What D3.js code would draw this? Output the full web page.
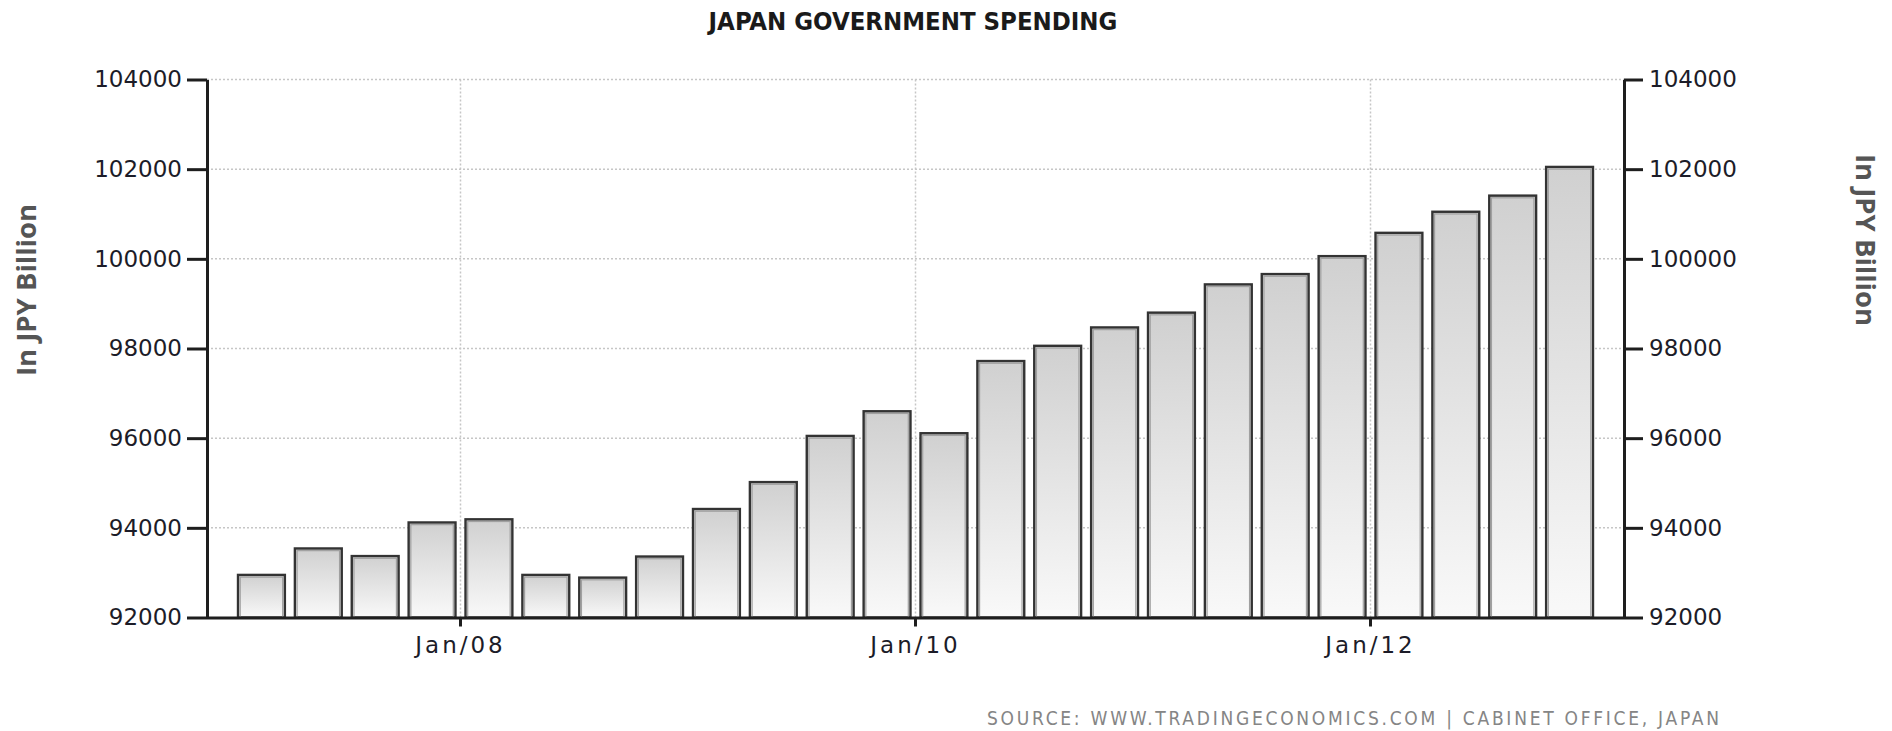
<!DOCTYPE html>
<html>
<head>
<meta charset="utf-8">
<title>Japan Government Spending</title>
<script src="https://cdn.jsdelivr.net/npm/d3@7"></script>
<style>
  html, body { margin: 0; padding: 0; background: #ffffff; }
  svg { display: block; }
</style>
</head>
<body>
<svg id="chart" width="1892" height="731"></svg>
<script>
// Quarterly government spending, JPY billion
const quarters = [
  "2007Q1", "2007Q2", "2007Q3", "2007Q4",
  "2008Q1", "2008Q2", "2008Q3", "2008Q4",
  "2009Q1", "2009Q2", "2009Q3", "2009Q4",
  "2010Q1", "2010Q2", "2010Q3", "2010Q4",
  "2011Q1", "2011Q2", "2011Q3", "2011Q4",
  "2012Q1", "2012Q2", "2012Q3", "2012Q4"
];
const spending = [
  92950, 93540, 93370, 94120,
  94190, 92950, 92890, 93360,
  94420, 95020, 96050, 96600,
  96110, 97720, 98060, 98470,
  98800, 99430, 99660, 100060,
  100580, 101050, 101410, 102050
];
const yTicks = [92000, 94000, 96000, 98000, 100000, 102000, 104000];
const xTickQuarters = ["2008Q1", "2010Q1", "2012Q1"];
const xTickLabels = ["Jan/08", "Jan/10", "Jan/12"];

const titleText = "JAPAN GOVERNMENT SPENDING";
const unitText = "In JPY Billion";
const sourceText = "SOURCE:  WWW.TRADINGECONOMICS.COM  |  CABINET  OFFICE,  JAPAN";

const svg = d3.select("#chart");

// Plot frame
const plotLeft = 207, plotRight = 1624, plotTop = 79.5, plotBottom = 617.5;
const inset = 26;

const x = d3.scaleBand()
  .domain(quarters)
  .range([plotLeft + inset, plotRight - inset])
  .paddingInner(0.176)
  .paddingOuter(0.088);

const y = d3.scaleLinear()
  .domain([92000, 104000])
  .range([plotBottom, plotTop]);

const halfGap = x.step() * x.paddingInner() / 2;
const boundary = q => x(q) - halfGap;

// Bar fill gradient
const defs = svg.append("defs");
const grad = defs.append("linearGradient")
  .attr("id", "barFill")
  .attr("x1", 0).attr("y1", 0).attr("x2", 0).attr("y2", 1);
grad.append("stop").attr("offset", "0%").attr("stop-color", "#d0d0d0");
grad.append("stop").attr("offset", "100%").attr("stop-color", "#f9f9f9");

// Horizontal dotted grid
svg.append("g")
  .selectAll("line")
  .data(yTicks.filter(v => v !== 92000))
  .join("line")
  .attr("x1", plotLeft).attr("x2", plotRight)
  .attr("y1", d => y(d)).attr("y2", d => y(d))
  .attr("stroke", "#c6c6c6")
  .attr("stroke-width", 1.5)
  .attr("stroke-dasharray", "2,2");

// Vertical dotted grid at year starts
svg.append("g")
  .selectAll("line")
  .data(xTickQuarters)
  .join("line")
  .attr("x1", d => boundary(d)).attr("x2", d => boundary(d))
  .attr("y1", plotTop).attr("y2", plotBottom)
  .attr("stroke", "#c6c6c6")
  .attr("stroke-width", 1.5)
  .attr("stroke-dasharray", "2,2");

// Bars
const bars = svg.append("g")
  .selectAll("g")
  .data(quarters.map((q, i) => ({ q, v: spending[i] })))
  .join("g");

bars.append("rect")
  .attr("x", d => x(d.q))
  .attr("y", d => y(d.v))
  .attr("width", x.bandwidth())
  .attr("height", d => plotBottom - y(d.v))
  .attr("fill", "url(#barFill)")
  .attr("stroke", "#333333")
  .attr("stroke-width", 2.4);

// inner bevel line
bars.append("rect")
  .attr("x", d => x(d.q) + 2.2)
  .attr("y", d => y(d.v) + 2.2)
  .attr("width", x.bandwidth() - 4.4)
  .attr("height", d => Math.max(0, plotBottom - y(d.v) - 2.2))
  .attr("fill", "none")
  .attr("stroke", "#a0a0a0")
  .attr("stroke-width", 1.2);

// Axes
const tickFont = "'DejaVu Sans', Verdana, sans-serif";

const yLeft = svg.append("g")
  .attr("transform", `translate(${plotLeft},0)`)
  .call(d3.axisLeft(y).tickValues(yTicks).tickSize(20).tickSizeOuter(0).tickPadding(5).tickFormat(d3.format("d")));

const yRight = svg.append("g")
  .attr("transform", `translate(${plotRight},0)`)
  .call(d3.axisRight(y).tickValues(yTicks).tickSize(19).tickSizeOuter(0).tickPadding(6).tickFormat(d3.format("d")));

const xAxis = svg.append("g")
  .attr("transform", `translate(0,${plotBottom})`)
  .call(d3.axisBottom(x).tickValues(xTickQuarters).tickSize(9).tickSizeOuter(0).tickPadding(10)
    .tickFormat(q => xTickLabels[xTickQuarters.indexOf(q)]));
xAxis.selectAll(".tick").attr("transform", d => `translate(${boundary(d)},0)`);
xAxis.select(".domain").attr("d", `M${plotLeft},0.5H${plotRight}`);

[yLeft, yRight, xAxis].forEach(g => {
  g.select(".domain").attr("stroke", "#1e1e1e").attr("stroke-width", 3);
  g.selectAll(".tick line").attr("stroke", "#1e1e1e").attr("stroke-width", 3);
  g.selectAll(".tick text")
    .attr("fill", "#1c1c28")
    .style("font-family", tickFont)
    .style("font-size", "23px");
});
xAxis.selectAll(".tick text").style("letter-spacing", "3px");

// Title
svg.append("text")
  .attr("x", 913)
  .attr("y", 30)
  .attr("text-anchor", "middle")
  .attr("fill", "#1a1a1a")
  .style("font-family", "'DejaVu Sans Condensed', 'DejaVu Sans', sans-serif")
  .style("font-weight", "bold")
  .style("font-size", "25.5px")
  .text(titleText);

// Unit labels
const unitStyle = sel => sel
  .attr("text-anchor", "middle")
  .attr("fill", "#555555")
  .style("font-family", "'Open Sans', 'Noto Sans', sans-serif")
  .style("font-weight", "bold")
  .style("font-size", "27.5px")
  .text(unitText);

svg.append("text")
  .attr("transform", "translate(36,290) rotate(-90)")
  .call(unitStyle);

svg.append("text")
  .attr("transform", "translate(1856,240) rotate(90)")
  .call(unitStyle);

// Source line
svg.append("text")
  .attr("x", 987)
  .attr("y", 725)
  .attr("fill", "#858585")
  .attr("textLength", 732)
  .attr("lengthAdjust", "spacing")
  .style("font-family", "'DejaVu Sans Condensed', 'DejaVu Sans', sans-serif")
  .style("font-size", "19px")
  .text(sourceText);
</script>
</body>
</html>
